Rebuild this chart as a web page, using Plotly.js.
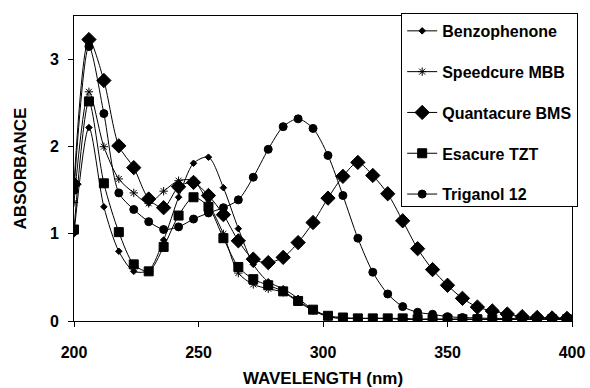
<!DOCTYPE html>
<html>
<head>
<meta charset="utf-8">
<script src="https://cdn.plot.ly/plotly-3.0.1.min.js"></script>
<style>html,body{margin:0;padding:0;background:#fff;}#chart{width:590px;height:388px;}</style>
</head>
<body>
<div id="chart"></div>
<script>
// Wavelengths (nm), one reading every 6 nm
const wavelength = [200,206,212,218,224,230,236,242,248,254,260,266,272,278,284,290,296,302,308,314,320,326,332,338,344,350,356,362,368,374,380,386,392,398];

const benzophenone = [1.00,2.22,1.31,0.80,0.57,0.58,0.93,1.42,1.81,1.88,1.53,1.06,0.65,0.45,0.37,0.26,0.13,0.05,0.03,0.03,0.03,0.03,0.02,0.02,0.02,0.02,0.02,0.02,0.02,0.02,0.02,0.02,0.02,0.02];
const speedcureMBB = [1.36,2.63,2.00,1.63,1.47,1.35,1.49,1.61,1.61,1.35,1.00,0.55,0.42,0.37,0.33,0.22,0.12,0.05,0.03,0.03,0.03,0.03,0.02,0.02,0.02,0.02,0.02,0.02,0.02,0.02,0.02,0.02,0.02,0.02];
const quantacureBMS = [1.57,3.23,2.76,2.01,1.76,1.40,1.30,1.54,1.59,1.44,1.22,0.92,0.71,0.67,0.73,0.90,1.13,1.41,1.66,1.82,1.67,1.46,1.15,0.83,0.59,0.41,0.26,0.16,0.115,0.08,0.05,0.04,0.035,0.03];
const esacureTZT = [1.05,2.52,1.58,1.02,0.65,0.57,0.85,1.21,1.42,1.31,0.95,0.62,0.48,0.41,0.34,0.23,0.13,0.06,0.04,0.03,0.03,0.03,0.03,0.02,0.02,0.02,0.02,0.02,0.02,0.02,0.02,0.02,0.02,0.02];
const triganol12 = [1.50,3.15,2.38,1.47,1.28,1.14,1.05,1.08,1.17,1.24,1.30,1.39,1.65,1.97,2.23,2.32,2.21,1.90,1.44,0.95,0.56,0.31,0.165,0.10,0.077,0.05,0.04,0.035,0.03,0.03,0.03,0.03,0.03,0.03];

const seriesNames = ["Benzophenone","Speedcure MBB","Quantacure BMS","Esacure TZT","Triganol 12"];
const seriesData = [benzophenone, speedcureMBB, quantacureBMS, esacureTZT, triganol12];
const markerSymbols = ["diamond","asterisk-open","diamond","square","circle"];
const markerSizes = [5,7,11,9,8];
const xTicks = [200,250,300,350,400];
const yTicks = [0,1,2,3];

const FONT = "Arial, 'Liberation Sans', sans-serif";

const traces = seriesNames.map((name, i) => ({
  type: "scatter",
  mode: "lines+markers",
  name: name,
  x: wavelength,
  y: seriesData[i],
  legendgroup: "g" + i,
  line: {color: "#000", width: 1, shape: "spline", smoothing: 0.8},
  marker: {symbol: markerSymbols[i], size: markerSizes[i], color: "#000", line: {color: "#000", width: 1}}
}));

const layout = {
  width: 590, height: 388,
  margin: {l: 74, r: 15, t: 16, b: 67},
  paper_bgcolor: "#fff", plot_bgcolor: "#fff",
  font: {family: FONT, color: "#000"},
  showlegend: true,
  legend: {
    x: 0.657, y: 1.01, xanchor: "left", yanchor: "top",
    bgcolor: "#fff", bordercolor: "#000", borderwidth: 1,
    font: {family: FONT, size: 16, weight: "bold", color: "#000"},
    tracegroupgap: 17, itemwidth: 30
  },
  xaxis: {
    range: [200, 400], tickvals: xTicks, ticktext: xTicks.map(String),
    showgrid: false, zeroline: false,
    showline: true, linecolor: "#000", linewidth: 1, mirror: true,
    ticks: "outside", ticklen: 5, tickcolor: "#000",
    ticklabelstandoff: 12,
    tickfont: {family: FONT, size: 16, weight: "bold", color: "#000"},
    title: {text: "WAVELENGTH (nm)", font: {family: FONT, size: 17, weight: "bold", color: "#000"}, standoff: 14}
  },
  yaxis: {
    range: [0, 3.5], tickvals: yTicks, ticktext: yTicks.map(String),
    showgrid: false, zeroline: false,
    showline: true, linecolor: "#000", linewidth: 1, mirror: true,
    ticks: "outside", ticklen: 5, tickcolor: "#000",
    ticklabelstandoff: 6,
    tickfont: {family: FONT, size: 16, weight: "bold", color: "#000"},
    title: {text: "ABSORBANCE", font: {family: FONT, size: 17, weight: "bold", color: "#000"}, standoff: 18}
  }
};

Plotly.newPlot("chart", traces, layout, {displayModeBar: false, staticPlot: true});
</script>
</body>
</html>
